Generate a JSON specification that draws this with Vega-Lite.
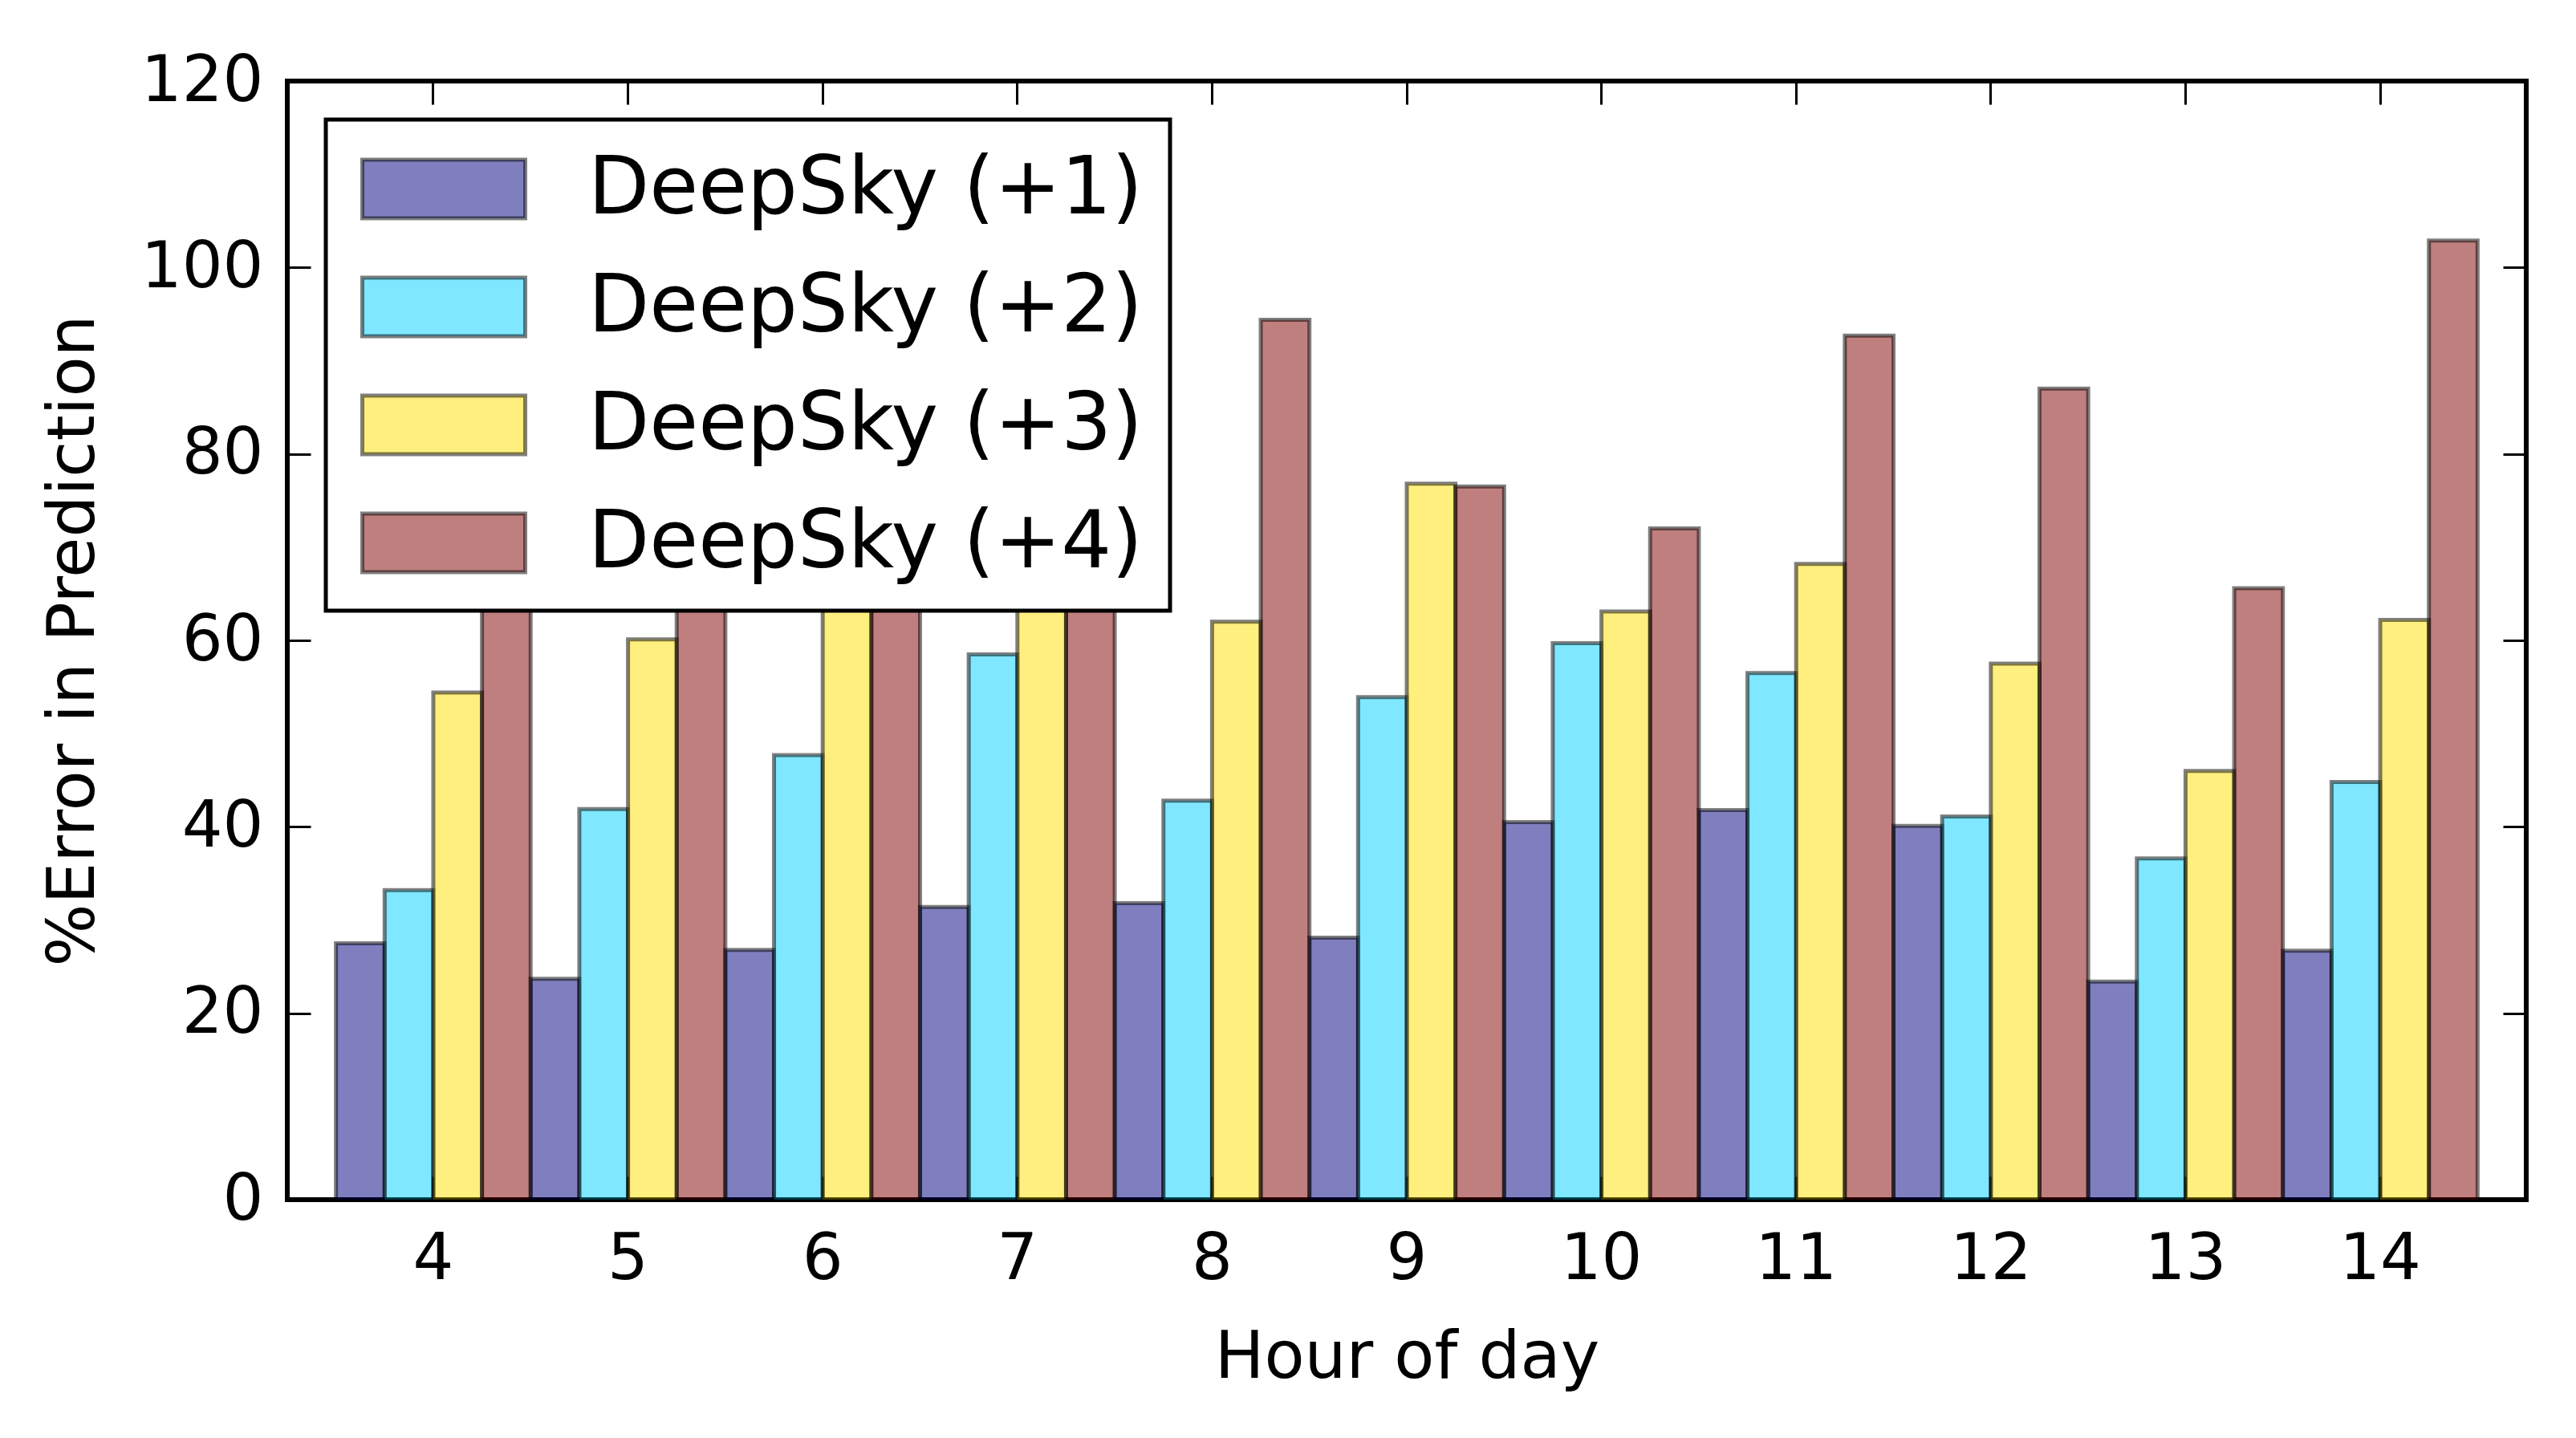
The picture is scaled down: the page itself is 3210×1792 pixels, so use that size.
{
  "$schema": "https://vega.github.io/schema/vega-lite/v6.json",
  "width": 2790,
  "height": 1394,
  "autosize": "none",
  "padding": {"left": 358, "top": 101, "right": 62, "bottom": 297},
  "background": "white",
  "config": {
    "view": {"stroke": "black", "strokeWidth": 6},
    "axis": {
      "labelFont": "DejaVu Sans",
      "labelFontSize": 80,
      "labelColor": "black",
      "titleFont": "DejaVu Sans",
      "titleFontSize": 82,
      "titleFontWeight": "normal",
      "titleColor": "black",
      "tickColor": "black",
      "tickWidth": 3,
      "tickSize": -29,
      "domain": false,
      "grid": false
    }
  },
  "data": {
    "values": [
      {"hour": 4, "series": "DeepSky (+1)", "error": 27.5},
      {"hour": 4, "series": "DeepSky (+2)", "error": 33.2},
      {"hour": 4, "series": "DeepSky (+3)", "error": 54.4},
      {"hour": 4, "series": "DeepSky (+4)", "error": 78.0},
      {"hour": 5, "series": "DeepSky (+1)", "error": 23.7},
      {"hour": 5, "series": "DeepSky (+2)", "error": 41.9},
      {"hour": 5, "series": "DeepSky (+3)", "error": 60.1},
      {"hour": 5, "series": "DeepSky (+4)", "error": 84.0},
      {"hour": 6, "series": "DeepSky (+1)", "error": 26.8},
      {"hour": 6, "series": "DeepSky (+2)", "error": 47.7},
      {"hour": 6, "series": "DeepSky (+3)", "error": 66.0},
      {"hour": 6, "series": "DeepSky (+4)", "error": 88.0},
      {"hour": 7, "series": "DeepSky (+1)", "error": 31.4},
      {"hour": 7, "series": "DeepSky (+2)", "error": 58.5},
      {"hour": 7, "series": "DeepSky (+3)", "error": 70.0},
      {"hour": 7, "series": "DeepSky (+4)", "error": 92.0},
      {"hour": 8, "series": "DeepSky (+1)", "error": 31.8},
      {"hour": 8, "series": "DeepSky (+2)", "error": 42.8},
      {"hour": 8, "series": "DeepSky (+3)", "error": 62.0},
      {"hour": 8, "series": "DeepSky (+4)", "error": 94.4},
      {"hour": 9, "series": "DeepSky (+1)", "error": 28.1},
      {"hour": 9, "series": "DeepSky (+2)", "error": 53.9},
      {"hour": 9, "series": "DeepSky (+3)", "error": 76.8},
      {"hour": 9, "series": "DeepSky (+4)", "error": 76.5},
      {"hour": 10, "series": "DeepSky (+1)", "error": 40.5},
      {"hour": 10, "series": "DeepSky (+2)", "error": 59.7},
      {"hour": 10, "series": "DeepSky (+3)", "error": 63.1},
      {"hour": 10, "series": "DeepSky (+4)", "error": 72.0},
      {"hour": 11, "series": "DeepSky (+1)", "error": 41.8},
      {"hour": 11, "series": "DeepSky (+2)", "error": 56.5},
      {"hour": 11, "series": "DeepSky (+3)", "error": 68.2},
      {"hour": 11, "series": "DeepSky (+4)", "error": 92.7},
      {"hour": 12, "series": "DeepSky (+1)", "error": 40.1},
      {"hour": 12, "series": "DeepSky (+2)", "error": 41.1},
      {"hour": 12, "series": "DeepSky (+3)", "error": 57.5},
      {"hour": 12, "series": "DeepSky (+4)", "error": 87.0},
      {"hour": 13, "series": "DeepSky (+1)", "error": 23.4},
      {"hour": 13, "series": "DeepSky (+2)", "error": 36.6},
      {"hour": 13, "series": "DeepSky (+3)", "error": 46.0},
      {"hour": 13, "series": "DeepSky (+4)", "error": 65.6},
      {"hour": 14, "series": "DeepSky (+1)", "error": 26.7},
      {"hour": 14, "series": "DeepSky (+2)", "error": 44.8},
      {"hour": 14, "series": "DeepSky (+3)", "error": 62.2},
      {"hour": 14, "series": "DeepSky (+4)", "error": 102.9}
    ]
  },
  "layer": [
    {
      "mark": {"type": "bar", "stroke": "black", "strokeOpacity": 0.5, "strokeWidth": 5, "fillOpacity": 0.5},
      "encoding": {
        "x": {
          "field": "hour",
          "type": "ordinal",
          "scale": {"paddingInner": 0, "paddingOuter": 0.25},
          "axis": {"title": "Hour of day", "labelAngle": 0, "labelPadding": 64, "titlePadding": 42}
        },
        "xOffset": {
          "field": "series",
          "scale": {"domain": ["DeepSky (+1)", "DeepSky (+2)", "DeepSky (+3)", "DeepSky (+4)"], "paddingInner": 0, "paddingOuter": 0}
        },
        "y": {
          "field": "error",
          "type": "quantitative",
          "scale": {"domain": [0, 120], "nice": false},
          "axis": {"title": "%Error in Prediction", "values": [0, 20, 40, 60, 80, 100, 120], "labelPadding": 59, "titlePadding": 42}
        },
        "fill": {
          "field": "series",
          "type": "nominal",
          "scale": {
            "domain": ["DeepSky (+1)", "DeepSky (+2)", "DeepSky (+3)", "DeepSky (+4)"],
            "range": ["#000080", "#00D0FF", "#FFE000", "#800000"]
          },
          "legend": {
            "title": null,
            "orient": "top-left",
            "offset": 48,
            "padding": 34,
            "fillColor": "white",
            "strokeColor": "black",
            "symbolType": "M-0.82,-0.73H3.24V0.73H-0.82Z",
            "symbolSize": 10000,
            "symbolStrokeWidth": 5,
            "symbolStrokeColor": "black",
            "rowPadding": 44,
            "labelOffset": 188,
            "labelFont": "DejaVu Sans",
            "labelFontSize": 99,
            "labelColor": "black",
            "labelLimit": 0,
            "encode": {
              "legend": {"update": {"strokeWidth": {"value": 5}}},
              "symbols": {"update": {"fillOpacity": {"value": 0.5}, "strokeOpacity": {"value": 0.5}}}
            }
          }
        }
      }
    },
    {
      "mark": {"type": "bar", "opacity": 0},
      "encoding": {
        "x": {"field": "hour", "type": "ordinal", "axis": {"orient": "top", "labels": false, "title": null}},
        "y": {
          "field": "error",
          "type": "quantitative",
          "axis": {"orient": "right", "labels": false, "title": null, "values": [0, 20, 40, 60, 80, 100, 120]}
        }
      }
    }
  ],
  "resolve": {"axis": {"x": "independent", "y": "independent"}}
}
